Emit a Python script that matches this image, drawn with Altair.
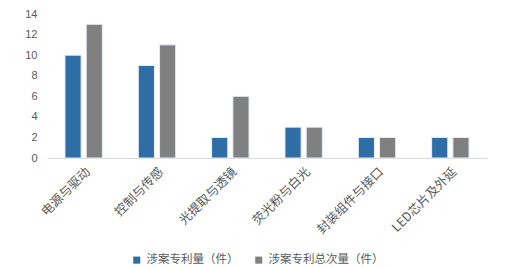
import altair as alt
import pandas as pd

categories = ["电源与驱动", "控制与传感", "光提取与透镜", "荧光粉与白光", "封装组件与接口", "LED芯片及外延"]
series_names = ["涉案专利量（件）", "涉案专利总次量（件）"]
patents = [10, 9, 2, 3, 2, 2]
total = [13, 11, 6, 3, 2, 2]

rows = []
for c, a, b in zip(categories, patents, total):
    rows.append({"cat": c, "series": series_names[0], "value": a})
    rows.append({"cat": c, "series": series_names[1], "value": b})
df = pd.DataFrame(rows)

chart = alt.Chart(df).mark_bar(stroke="#e8eef5", strokeWidth=1).encode(
    x=alt.X("cat:N", sort=categories, title=None,
            scale=alt.Scale(paddingInner=0.49, paddingOuter=0.245),
            axis=alt.Axis(labelAngle=-45, labelFont="Noto Sans CJK SC", labelFontSize=12.5,
                          labelColor="#595959", ticks=False, domainColor="#d9d9d9",
                          domainWidth=1, labelPadding=7)),
    xOffset=alt.XOffset("series:N", sort=series_names,
                        scale=alt.Scale(paddingInner=0.24, paddingOuter=0)),
    y=alt.Y("value:Q", title=None,
            scale=alt.Scale(domain=[0, 14]),
            axis=alt.Axis(values=list(range(0, 15, 2)), grid=False, domain=False, ticks=False,
                          labelFont="Liberation Sans", labelFontSize=11, labelColor="#595959",
                          labelPadding=10)),
    color=alt.Color("series:N", sort=series_names,
                    scale=alt.Scale(domain=series_names, range=["#2E6DA6", "#808080"]),
                    legend=alt.Legend(title=None, orient="none", direction="horizontal",
                                      legendX=84, legendY=240, symbolType="square",
                                      symbolSize=50, symbolStrokeWidth=0,
                                      labelFont="Noto Sans CJK SC", labelFontSize=11.5,
                                      labelColor="#595959", columnPadding=14)),
).properties(
    width=440, height=144,
    autosize=alt.AutoSizeParams(type="none"),
    padding={"left": 47, "top": 14, "right": 33, "bottom": 110},
).configure_view(stroke=None)

chart.save("out.html", embed_options={"renderer": "svg", "actions": False})
